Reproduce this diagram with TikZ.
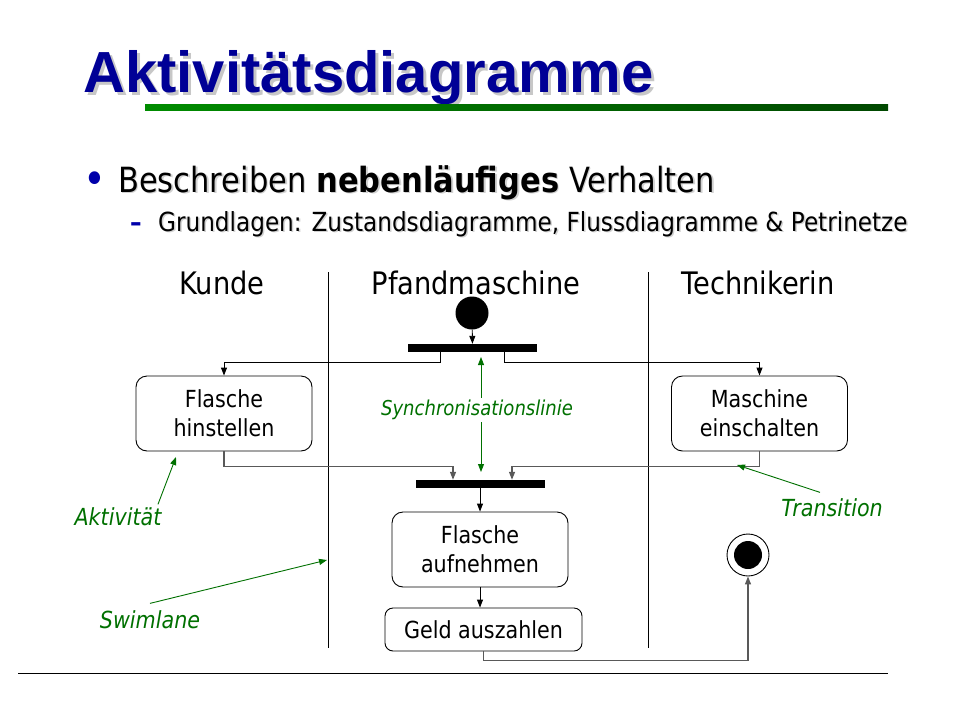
\documentclass[tikz,border=0pt]{standalone}
\usepackage{fontspec}
\setmainfont{DejaVu Sans}
\newfontfamily\titlefont{Liberation Sans}
\newfontfamily\slidefont[FakeStretch=0.88]{DejaVu Sans}
\usetikzlibrary{arrows.meta,positioning}

\definecolor{titleblue}{RGB}{0,0,150}
\definecolor{bulletblue}{RGB}{0,0,170}
\definecolor{notegreen}{RGB}{0,112,0}
\definecolor{barlight}{RGB}{0,140,0}
\definecolor{bardark}{RGB}{0,72,0}

\begin{document}
\begin{tikzpicture}[x=1pt, y=-1pt,
        slidetitle/.style={font=\titlefont\bfseries\fontsize{58}{64}\selectfont, anchor=base west, inner sep=0pt},
        bullettext/.style={font=\slidefont\fontsize{34.7}{40}\selectfont, anchor=base west, inner sep=0pt},
        subtext/.style={font=\slidefont\fontsize{26.3}{30}\selectfont, anchor=base west, inner sep=0pt},
        lanehead/.style={font=\slidefont\fontsize{31}{36}\selectfont},
        activity/.style={draw, rectangle, rounded corners=11pt, minimum width=176pt, minimum height=75pt, align=center, line width=0.9pt, font=\slidefont\fontsize{23.5}{29}\selectfont},
        syncbar/.style={fill=black, rectangle, minimum width=129pt, minimum height=8pt, inner sep=0pt},
        flow/.style={-{Triangle[length=8pt, width=6pt]}, line width=0.9pt},
        joinflow/.style={-{Triangle[length=8pt, width=6pt]}, line width=1.2pt, black!65},
        note/.style={font=\slidefont\itshape\fontsize{23.5}{28}\selectfont, text=notegreen},
        pointer/.style={-{Triangle[length=8pt, width=6pt]}, line width=0.9pt, notegreen}
    ]
    \useasboundingbox (0,0) rectangle (960,720);

    % --- Title ---
    \node[slidetitle, text=black!22] at (86,95) {Aktivitätsdiagramme};
    \node[slidetitle, text=titleblue] (title) at (83,92) {Aktivitätsdiagramme};
    \shade[left color=barlight, right color=bardark] (145,104) rectangle (888,110);

    % --- Bullets ---
    \node[bullettext, font=\slidefont\fontsize{44}{44}\selectfont, text=bulletblue] (dot) at (83,194) {•};
    \node[bullettext, text=black!18] at (119.5,193.5) {Beschreiben \textbf{nebenläufiges} Verhalten};
    \node[bullettext] (bullet) at (118,192) {Beschreiben \textbf{nebenläufiges} Verhalten};
    \node[subtext, font=\slidefont\bfseries\fontsize{26.3}{30}\selectfont, text=bulletblue] (dash) at (130,231) {–};
    \node[subtext, text=black!18] at (159.5,232.5) {Grundlagen: Zustandsdiagramme, Flussdiagramme \& Petrinetze};
    \node[subtext] (sub) at (158,231) {Grundlagen: Zustandsdiagramme, Flussdiagramme \& Petrinetze};

    % --- Swimlanes ---
    \node[lanehead] (kunde) at (222,283) {Kunde};
    \node[lanehead] (pfand) at (476,283) {Pfandmaschine};
    \node[lanehead] (technik) at (758,283) {Technikerin};
    \draw[line width=0.9pt] (328,272) -- (328,648);
    \draw[line width=0.9pt] (648,272) -- (648,648);

    % --- Activities ---
    \node[circle, fill=black, minimum width=32pt, minimum height=33pt, inner sep=0pt] (start) at (472,313) {};
    \node[syncbar] (fork) at (472.5,348) {};
    \node[activity] (hinstellen) at (224,413.5) {Flasche\\hinstellen};
    \node[activity] (einschalten) at (759.5,413.5) {Maschine\\einschalten};
    \node[syncbar] (join) at (480,484) {};
    \node[activity] (aufnehmen) at (480,549.5) {Flasche\\aufnehmen};
    \node[activity, minimum width=197pt, minimum height=43pt, rounded corners=8pt] (auszahlen) at (483.5,629.5) {Geld auszahlen};
    \node[circle, draw, line width=0.9pt, minimum width=40pt, minimum height=42pt, inner sep=0pt] (final) at (748,555) {};
    \node[circle, fill=black, minimum width=26pt, minimum height=28pt, inner sep=0pt] (finaldot) at (final) {};

    % --- Transitions ---
    \draw[flow] (start) -- (fork);
    \draw[flow] ([xshift=-32pt]fork.south) -- ++(0,10) -| (hinstellen.north);
    \draw[flow] ([xshift=32pt]fork.south) -- ++(0,10) -| (einschalten.north);
    \draw[joinflow] (hinstellen.south) -- ++(0,15) -| ([xshift=-27pt]join.north);
    \draw[joinflow] (einschalten.south) -- ++(0,15) -| ([xshift=32pt]join.north);
    \draw[flow] (join) -- (aufnehmen);
    \draw[flow] (aufnehmen.south) -- (aufnehmen.south |- auszahlen.north);
    \draw[joinflow] (auszahlen.south) -- ++(0,9) -| (final.south);

    % --- Annotations ---
    \node[note, font=\slidefont\itshape\fontsize{20.5}{24}\selectfont, inner sep=2pt] (synclabel) at (477,410) {Synchronisationslinie};
    \coordinate (syncup) at (481,357);
    \coordinate (syncdown) at (481,472);
    \draw[pointer] (synclabel.north -| syncup) -- (syncup);
    \draw[pointer] (synclabel.south -| syncdown) -- (syncdown);

    \node[note] (aktlabel) at (118,517) {Aktivität};
    \coordinate (akttip) at (176,457);
    \draw[pointer] ([xshift=-7pt]aktlabel.north east) -- (akttip);

    \node[note] (swimlabel) at (150,620) {Swimlane};
    \coordinate (lanetip) at (327,560);
    \draw[pointer] ([yshift=4pt]swimlabel.north) -- (lanetip);

    \node[note] (translabel) at (832,508) {Transition};
    \coordinate (transtip) at (737,465);
    \draw[pointer] ([xshift=-12pt, yshift=3pt]translabel.north) -- (transtip);

    % --- Footer ---
    \draw[line width=1pt] (18,673) -- (888,673);

    \end{tikzpicture}
\end{document}
